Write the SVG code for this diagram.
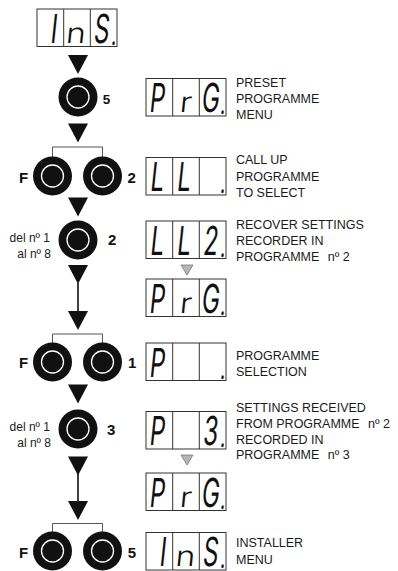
<svg xmlns="http://www.w3.org/2000/svg" width="398" height="571" viewBox="0 0 398 571">
<style>
.lbl{font-family:"Liberation Sans",Arial,sans-serif;font-size:12.5px;fill:#1a1a1a}
.sm{font-family:"Liberation Sans",Arial,sans-serif;font-size:12px;fill:#1a1a1a;text-anchor:end}
.key{font-family:"Liberation Sans",Arial,sans-serif;font-size:15px;font-weight:bold;fill:#111}
.seg{font-family:Inter,Roboto,"Liberation Sans",sans-serif;font-size:40px;font-weight:400;fill:#111;text-anchor:middle}
.lc{font-family:Inter,Roboto,"Liberation Sans",sans-serif;font-size:28px;font-weight:350;fill:#111;text-anchor:middle}
.dp{font-size:30px}
.frame{fill:#fff;stroke:#333;stroke-width:1}
.div{stroke:#333;stroke-width:1}
.arr{fill:#111}
.gtri{fill:#b5b5b5;stroke:#777;stroke-width:0.8}
.brk{fill:none;stroke:#555;stroke-width:1}
.vline{stroke:#111;stroke-width:1.6}
</style>
<defs>
<g id="btn"><circle r="19.5" fill="#111"/><circle r="11" fill="#111" stroke="#fff" stroke-width="1.3"/></g>
<g id="disp"><rect class="frame" x="0" y="0" width="80" height="37.5"/><line class="div" x1="26.7" y1="0" x2="26.7" y2="37.5"/><line class="div" x1="53.3" y1="0" x2="53.3" y2="37.5"/></g>
<path id="tri" class="arr" d="M-10,0 L10,0 L0,19 Z"/>
<path id="gtri" class="gtri" d="M-6,0 L6,0 L0,10 Z"/>
</defs>

<g id="connectors">
<use href="#tri" x="78" y="55"/>
<use href="#tri" x="78" y="123.5"/>
<path class="brk" d="M52.5,157 V147 H102.5 V157"/>
<use href="#tri" x="78" y="197.5"/>
<use href="#tri" x="78" y="265"/>
<line class="vline" x1="78" y1="283" x2="78" y2="312"/>
<use href="#tri" x="78" y="311"/>
<path class="brk" d="M52.5,343 V334 H102.5 V343"/>
<use href="#tri" x="78" y="384.5"/>
<use href="#tri" x="78" y="456.5"/>
<line class="vline" x1="78" y1="474" x2="78" y2="502"/>
<use href="#tri" x="78" y="501"/>
<path class="brk" d="M52.5,532 V523.5 H102.5 V532"/>
<use href="#gtri" x="187" y="265"/>
<use href="#gtri" x="187" y="455"/>
</g>

<g id="display-ins-top">
<use href="#disp" x="37" y="9"/>
<text class="seg" transform="translate(37,42.5) skewX(-6) scale(0.6,1)"><tspan x="26.7">I</tspan><tspan x="106.2">S</tspan><tspan class="dp" x="127.5" y="2">.</tspan></text>
<text class="lc" transform="translate(75,42.5) skewX(-6) scale(1.2,1)">n</text>
</g>

<g id="key-5">
<use href="#btn" x="78" y="97"/>
<text class="key" x="102.7" y="104" style="font-size:13.5px">5</text>
</g>

<g id="display-prg-1">
<use href="#disp" x="146" y="78.5"/>
<text class="seg" transform="translate(146,112.3) skewX(-6) scale(0.6,1)"><tspan x="17.2">P</tspan><tspan x="106.2">G</tspan><tspan class="dp" x="127.5" y="2">.</tspan></text>
<text class="lc" transform="translate(185,112.3) skewX(-6) scale(1.2,1)">r</text>
<text class="lbl" x="236" y="87">PRESET</text>
<text class="lbl" x="236" y="103">PROGRAMME</text>
<text class="lbl" x="236" y="119">MENU</text>
</g>

<g id="keys-f-2">
<use href="#btn" x="52.5" y="176"/>
<use href="#btn" x="102.5" y="176"/>
<text class="key" x="19" y="183">F</text>
<text class="key" x="127.5" y="183">2</text>
</g>

<g id="display-ll">
<use href="#disp" x="146" y="157.5"/>
<text class="seg" transform="translate(146,191.3) skewX(-6) scale(0.6,1)"><tspan x="17.2">L</tspan><tspan x="61.7">L</tspan><tspan class="dp" x="127.5" y="2">.</tspan></text>
<text class="lbl" x="236" y="164">CALL UP</text>
<text class="lbl" x="236" y="180.5">PROGRAMME</text>
<text class="lbl" x="236" y="197">TO SELECT</text>
</g>

<g id="key-2-select">
<use href="#btn" x="78" y="240"/>
<text class="sm" x="50" y="242">del nº 1</text>
<text class="sm" x="51" y="258">al nº 8</text>
<text class="key" x="108" y="245">2</text>
</g>

<g id="display-ll2">
<use href="#disp" x="146" y="221"/>
<text class="seg" transform="translate(146,254.8) skewX(-6) scale(0.6,1)"><tspan x="17.2">L</tspan><tspan x="61.7">L</tspan><tspan x="106.2">2</tspan><tspan class="dp" x="127.5" y="2">.</tspan></text>
<text class="lbl" x="236" y="229">RECOVER SETTINGS</text>
<text class="lbl" x="236" y="245">RECORDER IN</text>
<text class="lbl" x="236" y="261">PROGRAMME <tspan dx="5">nº 2</tspan></text>
</g>

<g id="display-prg-2">
<use href="#disp" x="146" y="279"/>
<text class="seg" transform="translate(146,312.8) skewX(-6) scale(0.6,1)"><tspan x="17.2">P</tspan><tspan x="106.2">G</tspan><tspan class="dp" x="127.5" y="2">.</tspan></text>
<text class="lc" transform="translate(185,312.8) skewX(-6) scale(1.2,1)">r</text>
</g>

<g id="keys-f-1">
<use href="#btn" x="52.5" y="362"/>
<use href="#btn" x="102.5" y="362"/>
<text class="key" x="19" y="368">F</text>
<text class="key" x="128" y="368">1</text>
</g>

<g id="display-p">
<use href="#disp" x="146" y="343"/>
<text class="seg" transform="translate(146,376.8) skewX(-6) scale(0.6,1)"><tspan x="17.2">P</tspan><tspan class="dp" x="127.5" y="2">.</tspan></text>
<text class="lbl" x="236" y="360">PROGRAMME</text>
<text class="lbl" x="236" y="376">SELECTION</text>
</g>

<g id="key-3-select">
<use href="#btn" x="78" y="429"/>
<text class="sm" x="50" y="431">del nº 1</text>
<text class="sm" x="51" y="447">al nº 8</text>
<text class="key" x="107" y="435">3</text>
</g>

<g id="display-p3">
<use href="#disp" x="146" y="411.5"/>
<text class="seg" transform="translate(146,445.3) skewX(-6) scale(0.6,1)"><tspan x="17.2">P</tspan><tspan x="106.2">3</tspan><tspan class="dp" x="127.5" y="2">.</tspan></text>
<text class="lbl" x="236" y="412">SETTINGS RECEIVED</text>
<text class="lbl" x="236" y="428">FROM PROGRAMME <tspan dx="5">nº 2</tspan></text>
<text class="lbl" x="236" y="443.5">RECORDED IN</text>
<text class="lbl" x="236" y="459">PROGRAMME <tspan dx="5">nº 3</tspan></text>
</g>

<g id="display-prg-3">
<use href="#disp" x="146" y="473"/>
<text class="seg" transform="translate(146,506.8) skewX(-6) scale(0.6,1)"><tspan x="17.2">P</tspan><tspan x="106.2">G</tspan><tspan class="dp" x="127.5" y="2">.</tspan></text>
<text class="lc" transform="translate(185,506.8) skewX(-6) scale(1.2,1)">r</text>
</g>

<g id="keys-f-5">
<use href="#btn" x="52.5" y="551"/>
<use href="#btn" x="102.5" y="551"/>
<text class="key" x="19" y="557.5">F</text>
<text class="key" x="127.7" y="557.5">5</text>
</g>

<g id="display-ins-bottom">
<use href="#disp" x="146" y="532.5"/>
<text class="seg" transform="translate(146,566) skewX(-6) scale(0.6,1)"><tspan x="26.7">I</tspan><tspan x="106.2">S</tspan><tspan class="dp" x="127.5" y="2">.</tspan></text>
<text class="lc" transform="translate(184.5,566) skewX(-6) scale(1.2,1)">n</text>
<text class="lbl" x="236" y="547">INSTALLER</text>
<text class="lbl" x="236" y="564">MENU</text>
</g>
</svg>
